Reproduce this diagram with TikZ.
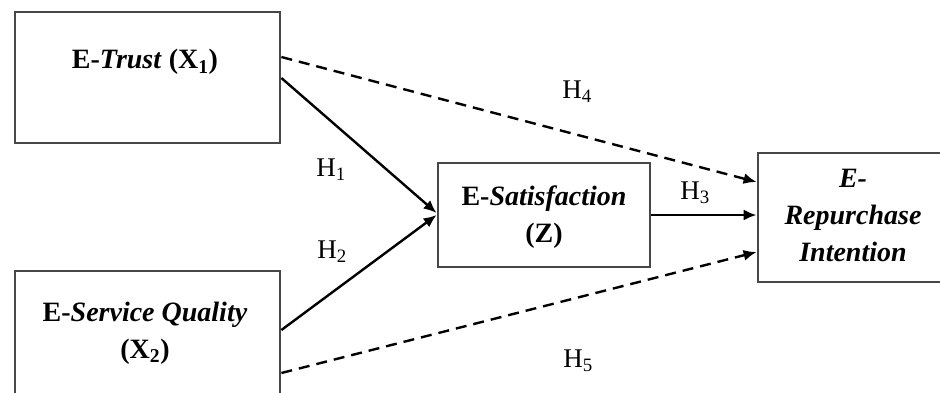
\documentclass[tikz,border=0pt]{standalone}
\usepackage{fontspec}
\setmainfont{Liberation Serif}
\usetikzlibrary{arrows.meta}
\begin{document}
\begin{tikzpicture}[x=1pt,y=-1pt,
  box/.style={draw=black!72, line width=2.8pt, inner sep=0pt},
  lbl/.style={font=\fontsize{28}{37}\selectfont\bfseries, align=center, inner sep=0pt},
  hyp/.style={font=\fontsize{27}{30}\selectfont, inner sep=0pt},
  conn/.style={line width=2.4pt, -{Latex[length=13pt,width=11pt]}},
  dconn/.style={conn, dash pattern=on 11pt off 7pt}]
\useasboundingbox (0,0) rectangle (940,392);
\clip (0,0) rectangle (940,392);
% boxes
\node[box, minimum width=265pt, minimum height=131pt] (b1) at (147.5,77.5) {};
\node[box, minimum width=265pt, minimum height=159pt] (b2) at (147.5,350.5) {};
\node[box, minimum width=212pt, minimum height=104pt] (b3) at (544,215) {};
\node[box, minimum width=222pt, minimum height=129pt] (b4) at (869,217.5) {};
% texts
\node[lbl] (t1) at (145,62) {E-\textit{Trust} (X\textsubscript{1})};
\node[lbl] (t2) at (145,333) {E-\textit{Service Quality}\\(X\textsubscript{2})};
\node[lbl] (t3) at (544,217) {E-\textit{Satisfaction}\\(Z)};
\node[lbl] (t4) at (853,215) {\textit{E-}\\\textit{Repurchase}\\\textit{Intention}};
% connectors
\draw[dconn] (b1.east |- 0,57) -- (b4.west |- 0,182);
\draw[conn] (b1.east |- 0,78) -- (b3.west |- 0,213);
\draw[conn] (b2.east |- 0,330) -- (b3.west |- 0,215);
\draw[conn] (b3.east) -- (b4.west |- b3.east);
\draw[dconn] (b2.east |- 0,373) -- (b4.west |- 0,252);
% hypothesis labels
\node[hyp] (h1) at (331,170) {H\textsubscript{1}};
\node[hyp] (h2) at (332,252) {H\textsubscript{2}};
\node[hyp] (h3) at (695,193) {H\textsubscript{3}};
\node[hyp] (h4) at (577,92) {H\textsubscript{4}};
\node[hyp] (h5) at (578,361) {H\textsubscript{5}};
\end{tikzpicture}
\end{document}
